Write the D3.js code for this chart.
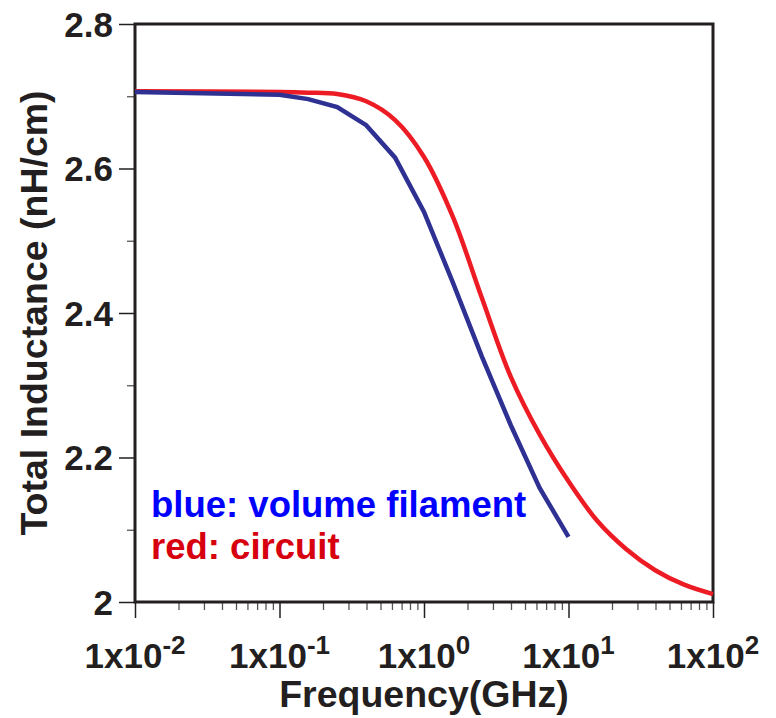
<!DOCTYPE html>
<html>
<head>
<meta charset="utf-8">
<script src="https://cdn.jsdelivr.net/npm/d3@7"></script>
<style>
  body { margin: 0; background: #fff; }
  text { font-family: "Liberation Sans", Arial, sans-serif; font-weight: bold; }
</style>
</head>
<body>
<div id="chart"></div>
<script>
// frequency points (GHz) and inductance (nH/cm)
var freqRed = [0.01, 0.1, 0.158, 0.251, 0.398, 0.631, 1, 1.585, 2.512, 3.981, 6.31, 10, 15.85, 25.12, 39.81, 63.1, 100];
var indRed  = [2.707, 2.706, 2.705, 2.703, 2.693, 2.667, 2.616, 2.533, 2.421, 2.312, 2.232, 2.167, 2.112, 2.073, 2.044, 2.024, 2.011];

var freqBlue = [0.01, 0.1, 0.158, 0.251, 0.398, 0.631, 1, 1.585, 2.512, 3.981, 6.31, 10];
var indBlue  = [2.706, 2.702, 2.696, 2.685, 2.660, 2.615, 2.540, 2.442, 2.340, 2.245, 2.158, 2.090];

var xExponents = [-2, -1, 0, 1, 2];
var yMajor = [2.0, 2.2, 2.4, 2.6, 2.8];
var yMinor = [2.1, 2.3, 2.5, 2.7];

var legendLines = ["blue: volume filament", "red: circuit"];

var W = 776, H = 718;
var margin = {top: 24, right: 63, bottom: 116, left: 135},
    width = W - margin.left - margin.right,
    height = H - margin.top - margin.bottom;

var svg = d3.select("#chart").append("svg")
    .attr("width", W)
    .attr("height", H);

var g = svg.append("g")
    .attr("transform", "translate(" + margin.left + "," + margin.top + ")");

var x = d3.scaleLog().domain([0.01, 100]).range([0, width]);
var y = d3.scaleLinear().domain([2, 2.8]).range([height, 0]);

var ink = "#231f20";

// minor x ticks (2..9 per decade)
var xMinor = [];
for (var e = -2; e < 2; e++) {
  for (var m = 2; m <= 9; m++) xMinor.push(m * Math.pow(10, e));
}

// x axis: major ticks, labels drawn separately for the superscripts
var xAxis = g.append("g")
    .attr("transform", "translate(0," + height + ")")
    .call(d3.axisBottom(x).tickValues(xExponents.map(function(p){ return Math.pow(10, p); }))
        .tickSize(16).tickFormat(""));
xAxis.select(".domain").remove();
xAxis.selectAll("line").attr("stroke", ink).attr("stroke-width", 1.5);

var xAxisMinor = g.append("g")
    .attr("transform", "translate(0," + height + ")")
    .call(d3.axisBottom(x).tickValues(xMinor).tickSize(8).tickFormat(""));
xAxisMinor.select(".domain").remove();
xAxisMinor.selectAll("line").attr("stroke", "#555").attr("stroke-width", 1.3);

var xl = g.append("g").selectAll("text")
    .data(xExponents)
    .enter().append("text")
    .attr("x", function(d){ return x(Math.pow(10, d)); })
    .attr("y", height + 66)
    .attr("text-anchor", "middle")
    .attr("font-size", 35)
    .attr("fill", ink);
xl.append("tspan").text("1x10");
xl.append("tspan")
    .attr("font-size", 26)
    .attr("dy", -14)
    .text(function(d){ return d; });

// y axis
var yAxis = g.append("g")
    .call(d3.axisLeft(y).tickValues(yMajor).tickSize(16)
        .tickFormat(function(d){ return d === 2 ? "2" : d3.format(".1f")(d); }));
yAxis.select(".domain").remove();
yAxis.selectAll("line").attr("stroke", ink).attr("stroke-width", 1.5);
yAxis.selectAll("text")
    .attr("font-size", 35)
    .attr("fill", ink)
    .attr("x", -22)
    .attr("dy", "0.35em");

var yAxisMinor = g.append("g")
    .call(d3.axisLeft(y).tickValues(yMinor).tickSize(8).tickFormat(""));
yAxisMinor.select(".domain").remove();
yAxisMinor.selectAll("line").attr("stroke", "#555").attr("stroke-width", 1.3);

// frame
g.append("rect")
    .attr("x", 0).attr("y", 0)
    .attr("width", width).attr("height", height)
    .attr("fill", "none")
    .attr("stroke", ink)
    .attr("stroke-width", 3);

// curves
var redLine = d3.line()
    .x(function(d){ return x(d[0]); })
    .y(function(d){ return y(d[1]); })
    .curve(d3.curveCatmullRom.alpha(0.5));

var blueLine = d3.line()
    .x(function(d){ return x(d[0]); })
    .y(function(d){ return y(d[1]); });

g.append("path")
    .datum(d3.zip(freqRed, indRed))
    .attr("d", redLine)
    .attr("fill", "none")
    .attr("stroke", "#ed1c24")
    .attr("stroke-width", 4.5);

g.append("path")
    .datum(d3.zip(freqBlue, indBlue))
    .attr("d", blueLine)
    .attr("fill", "none")
    .attr("stroke", "#2e3192")
    .attr("stroke-width", 4.5);

// legend text
g.append("text")
    .attr("x", 16).attr("y", 493)
    .attr("font-size", 36.5)
    .attr("fill", "#0000ff")
    .text(legendLines[0]);
g.append("text")
    .attr("x", 16).attr("y", 535)
    .attr("font-size", 36.5)
    .attr("fill", "#d7000f")
    .text(legendLines[1]);

// axis titles
svg.append("text")
    .attr("x", margin.left + width / 2)
    .attr("y", 707)
    .attr("text-anchor", "middle")
    .attr("font-size", 37.5)
    .attr("fill", ink)
    .text("Frequency(GHz)");

svg.append("text")
    .attr("transform", "translate(47," + (margin.top + height / 2) + ") rotate(-90)")
    .attr("text-anchor", "middle")
    .attr("font-size", 37.5)
    .attr("fill", ink)
    .text("Total Inductance (nH/cm)");
</script>
</body>
</html>
